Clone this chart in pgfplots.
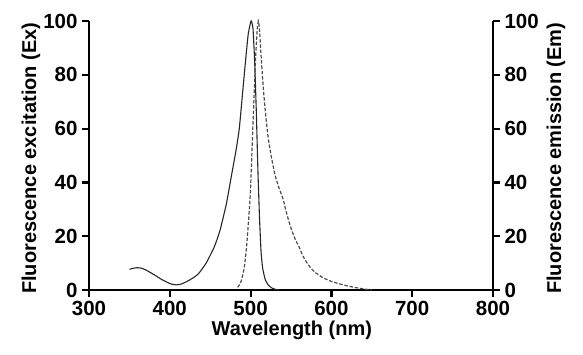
\documentclass[border=0pt]{standalone}
\usepackage{pgfplots}
\pgfplotsset{compat=1.18}
\usepackage{fontspec}
\setmainfont{Liberation Sans}
\pgfplotstableread{
x y
350 7.7
355 8.1
360 8.3
365 8.1
370 7.5
380 5.8
390 3.9
400 2.4
408 1.9
415 2.3
425 3.8
435 5.9
445 10
455 16
462 22
470 32
476 42
482 52
486 60
490 73
494 86
497 95
500 99.5
501 100
503 97
505 85
507 67
509 45
511 27
513 14
515 8
518 4
522 1.8
526 0.8
530 0.3
535 0
}\excitation
\pgfplotstableread{
x y
484 1
488 3
492 8
495 16
498 28
500 38
503 62
506 85
508 96
509.5 100
511 97
513 87
516 74
519 64
522 56
526 49
530 43
535 38
540 34
545 28
550 23
555 19
560 16
565 12.5
570 10
575 8
580 6.5
590 4.5
600 3.2
610 2.3
620 1.5
630 0.9
640 0.4
650 0
}\emission
\begin{document}
\begin{tikzpicture}
\path[use as bounding box] (-89pt,-64pt) rectangle (494pt,290pt);
\pgfplotsset{
  every axis/.append style={
    scale only axis, width=404pt, height=269pt,
    xmin=300, xmax=800, ymin=0, ymax=100,
    axis line style={line width=2.2pt},
    tick style={line width=2.2pt, black},
    major tick length=7pt,
    tick align=outside,
    /pgf/number format/assume math mode=true,
    tick label style={font=\bfseries\fontsize{20.5}{24}\selectfont},
    label style={font=\bfseries\fontsize{20}{24}\selectfont},
    ytick={0,20,40,60,80,100},
    clip=false,
  }
}
\begin{axis}[at={(0,0)}, anchor=south west,
  axis x line*=bottom, axis y line*=left,
  xtick={300,400,500,600,700,800},
  xlabel={Wavelength (nm)},
  ylabel={Fluorescence excitation (Ex)},
  xlabel style={at={(axis description cs:0.502,-0.149)}, anchor=center},
  ylabel style={at={(axis description cs:-0.1436,0.49)}, anchor=center},
  xticklabel style={yshift=-1pt},
  yticklabel style={xshift=-1pt},
]
\addplot[black!85, line width=1.1pt, smooth, tension=0.3] table {\excitation};
\addplot[black!70, line width=1.2pt, dash pattern=on 3.5pt off 1.8pt, smooth, tension=0.3] table {\emission};
\end{axis}
\begin{axis}[at={(0,0)}, anchor=south west,
  axis x line=none, axis y line*=right,
  ylabel={Fluorescence emission (Em)},
  ylabel style={at={(axis description cs:1.156,0.49)}, anchor=center},
  yticklabel style={xshift=1pt},
]
\addplot[draw=none] coordinates {(300,0)};
\end{axis}
\end{tikzpicture}
\end{document}
